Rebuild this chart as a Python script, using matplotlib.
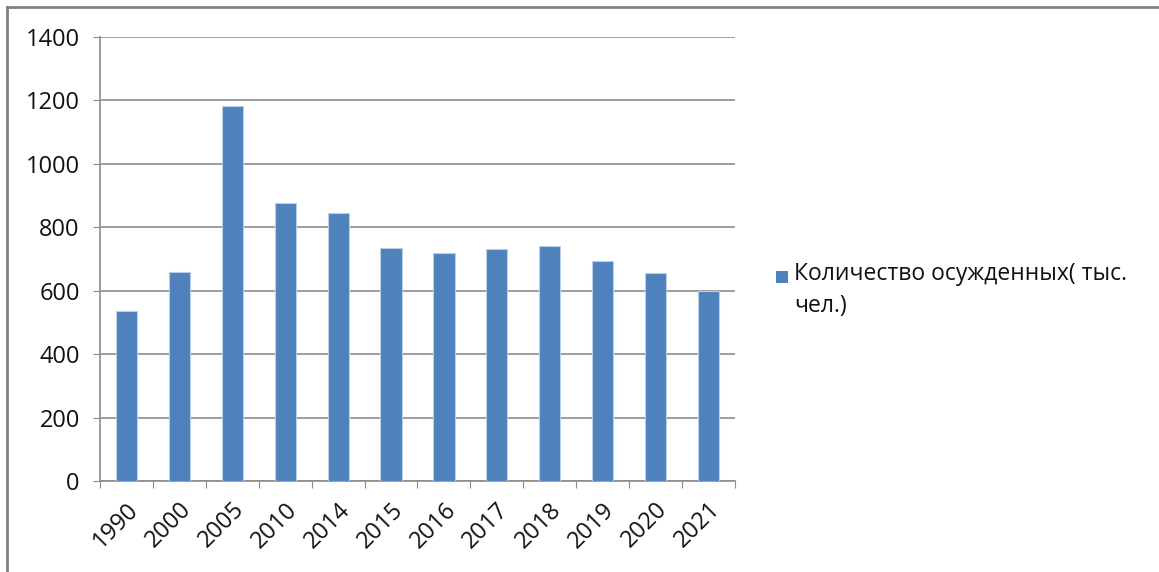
import matplotlib
matplotlib.use("Agg")
import matplotlib.pyplot as plt
from matplotlib.patches import Rectangle
from matplotlib.lines import Line2D

years = ["1990", "2000", "2005", "2010", "2014", "2015", "2016", "2017", "2018", "2019", "2020", "2021"]
convicted = [537, 658, 1181, 877, 845, 736, 719, 732, 740, 695, 655, 600]
series_name = "Количество осужденных( тыс.\nчел.)"

plt.rcParams["font.family"] = ["Open Sans", "DejaVu Sans"]

fig = plt.figure(figsize=(11.59, 5.72), dpi=100)
ax = fig.add_axes([100 / 1159, 1 - 481 / 572, 635 / 1159, 444 / 572])

grey = "#8c8c8c"
x = range(len(years))
ax.bar(x, convicted, width=0.4, color="#4f81bd", edgecolor="#b9cde5", linewidth=0.8, zorder=3)

ax.set_xlim(-0.5, len(years) - 0.5)
ax.set_ylim(0, 1400)
ax.set_yticks(range(0, 1401, 200))
ax.yaxis.grid(True, color=grey, linewidth=1.2, zorder=0)

ax.set_xticks([i - 0.5 for i in range(len(years) + 1)], minor=False)
ax.set_xticklabels([""] * (len(years) + 1))
ax.set_xticks(list(x), minor=True)
ax.set_xticklabels(years, minor=True, rotation=45, ha="right", rotation_mode="anchor",
                   fontsize=17, color="#111111")
ax.tick_params(axis="x", which="major", length=5, color=grey, direction="out")
ax.tick_params(axis="x", which="minor", length=0, pad=12)
ax.tick_params(axis="y", length=5, color=grey, labelsize=17, labelcolor="#111111", pad=9.5)

for side in ["top", "right"]:
    ax.spines[side].set_visible(False)
for side in ["left", "bottom"]:
    ax.spines[side].set_color(grey)
    ax.spines[side].set_linewidth(1.2)

# legend drawn by hand to keep the square beside the first line
fig.patches.append(Rectangle((776 / 1159, 1 - 283 / 572), 12 / 1159, 12 / 572,
                             transform=fig.transFigure, facecolor="#4f81bd", edgecolor="none"))
fig.text(794 / 1159, 1 - 262 / 572, series_name, fontsize=16.5, va="top", ha="left",
         linespacing=1.45, color="#111111")

# outer frame (top and left edges)
fig.lines.append(Line2D([7 / 1159, 1], [1 - 7 / 572, 1 - 7 / 572], transform=fig.transFigure,
                        color="#7f7f7f", linewidth=2))
fig.lines.append(Line2D([7 / 1159, 7 / 1159], [0, 1 - 7 / 572], transform=fig.transFigure,
                        color="#7f7f7f", linewidth=2))

fig.savefig("out.png", dpi=100)
